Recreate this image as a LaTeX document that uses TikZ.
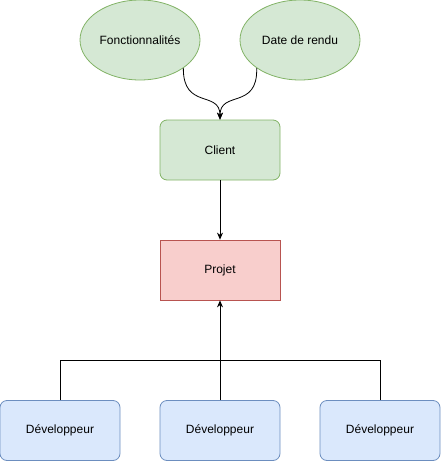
\documentclass[tikz,border=0pt]{standalone}
\usepackage{fontspec}
\setmainfont{Liberation Sans}
\usetikzlibrary{shapes.geometric,arrows.meta}
\definecolor{gfill}{HTML}{D5E8D4}
\definecolor{gline}{HTML}{82B366}
\definecolor{rfill}{HTML}{F8CECC}
\definecolor{rline}{HTML}{B85450}
\definecolor{bfill}{HTML}{DAE8FC}
\definecolor{bline}{HTML}{6C8EBF}
\tikzset{
  base/.style={font=\fontsize{12}{14}\selectfont, inner sep=0pt, line width=0.8pt},
  ell/.style={base, ellipse, draw=gline, fill=gfill, minimum width=120pt, minimum height=80pt},
  gbox/.style={base, rectangle, rounded corners=7pt, draw=gline, fill=gfill, minimum width=120pt, minimum height=60pt},
  rbox/.style={base, rectangle, draw=rline, fill=rfill, minimum width=120pt, minimum height=60pt},
  bbox/.style={base, rectangle, rounded corners=7pt, draw=bline, fill=bfill, minimum width=120pt, minimum height=60pt},
  arr/.style={draw=black, line width=0.8pt, -{Stealth[length=7pt,width=6pt]}},
  conn/.style={draw=black, line width=0.8pt}
}
\begin{document}
\begin{tikzpicture}[x=1pt,y=-1pt]
\useasboundingbox (0,0) rectangle (442,461);
\node[ell] (F) at (140,40) {Fonctionnalités};
\node[ell] (D) at (300,40) {Date de rendu};
\node[gbox] (C) at (220,150) {Client};
\node[rbox] (P) at (220,270) {Projet};
\node[bbox] (B1) at (60,430.5) {Développeur};
\node[bbox] (B2) at (220,430.5) {Développeur};
\node[bbox] (B3) at (380,430.5) {Développeur};
\draw[arr] (F.-33) .. controls (183,110) and (220,90) .. (C.north);
\draw[arr] (D.-147) .. controls (258,110) and (220,90) .. (C.north);
\draw[arr] (C) -- (P);
\draw[arr] (B2) -- (P);
\coordinate (J) at (220,360);
\draw[conn] (B1.north) |- (J);
\draw[conn] (B3.north) |- (J);
\end{tikzpicture}
\end{document}
